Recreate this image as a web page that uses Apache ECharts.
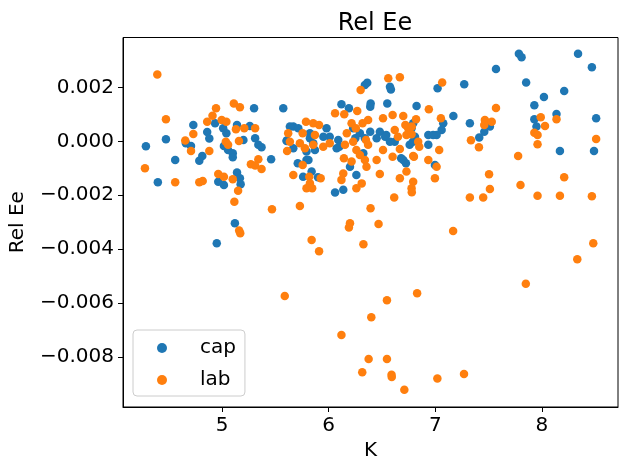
<!DOCTYPE html>
<html>
<head>
<meta charset="utf-8">
<script src="https://cdn.jsdelivr.net/npm/echarts@6/dist/echarts.min.js"></script>
<style>
html, body { margin: 0; padding: 0; background: #fff; }
#chart { width: 628px; height: 472px; }
</style>
</head>
<body>
<div id="chart"></div>
<script>
// values, Rel Ee in units of 0.001
var capK = [4.285, 4.397, 4.473, 4.56, 4.66, 4.708, 4.73, 4.786, 4.814, 4.86, 4.88, 4.934, 5.01, 5.04, 5.017, 5.056, 5.10, 5.10, 5.14, 5.20,
    5.26, 5.31, 5.34, 5.37, 5.46, 5.30, 5.574, 5.606, 4.964, 5.017, 5.14, 5.167, 5.174, 4.95, 5.12, 6.362, 6.34, 6.584, 6.575, 7.022,
    6.12, 6.19, 6.394, 6.39, 6.55, 6.825, 7.075, 7.06, 7.013, 6.935, 6.935, 6.997, 5.668, 5.606, 5.715, 5.98, 5.824, 5.792, 5.871, 6.075,
    6.09, 6.293, 6.325, 6.20, 6.26, 6.137, 6.06, 6.48, 6.54, 6.62, 6.793, 6.81, 6.70, 6.725, 5.792, 5.76, 5.84, 7.785, 7.81, 8.34,
    8.47, 7.57, 7.272, 7.853, 8.21, 8.02, 7.93, 7.17, 7.325, 7.513, 7.46, 7.413, 7.93, 8.138, 7.95, 8.17, 8.51, 8.49, 5.636, 6.01,
    5.95, 5.824, 5.855, 5.668, 5.81, 6.10, 6.23, 6.25, 6.34, 6.39, 6.98, 6.45, 6.53, 6.575, 6.778, 6.76, 6.79, 6.68, 5.71, 5.90];
var capEe = [-0.18, -1.52, 0.08, -0.69, -0.07, -0.17, 0.61, -0.72, -0.54, 0.35, 0.11, 0.67, 0.49, 0.30, -0.17, -0.32, -0.44, -0.59, 0.61, 0.05,
    0.57, 0.12, -0.13, -0.22, -0.66, 1.23, 1.23, 0.01, -1.50, -1.62, -1.16, -1.37, -1.59, -3.78, -3.04, 2.18, 2.09, 1.93, 2.03, 1.97,
    1.38, 1.23, 1.41, 1.29, 1.41, 1.31, 0.67, 0.42, 0.24, 0.24, -0.13, -0.88, 0.55, 0.03, 0.49, 0.49, 0.30, -0.38, -0.32, -0.26,
    0.05, 0.30, -0.44, -0.94, -1.25, -1.80, -1.90, 0.36, 0.24, -0.01, 0.67, 0.17, -0.69, -0.81, -0.69, -1.31, -1.12, 3.25, 3.12, 3.25,
    2.75, 2.69, 2.12, 2.19, 1.87, 1.65, 1.34, 0.94, 0.67, 0.55, 0.36, 0.14, 0.82, 1.02, 0.55, -0.36, 0.86, -0.36, 0.55, 0.17,
    0.17, 0.12, -0.07, -0.26, -0.69, -0.20, 0.49, 0.12, 0.12, 0.36, 0.24, 0.12, 0.17, -0.01, 0.49, -0.13, -0.01, -0.63, -0.81, -1.33];

var labK = [4.392, 4.473, 4.276, 4.56, 4.654, 4.708, 4.73, 4.786, 4.818, 4.88, 4.86, 4.91, 4.943, 4.996, 5.04, 5.035, 5.056, 5.13, 5.11, 5.167,
    5.158, 5.208, 5.31, 5.34, 5.27, 5.31, 5.37, 5.62, 5.61, 4.964, 5.017, 5.10, 5.15, 5.115, 5.16, 5.17, 5.468, 6.559, 6.668, 6.30,
    7.065, 6.94, 6.06, 6.146, 6.268, 6.37, 6.215, 6.318, 6.255, 6.51, 6.60, 6.70, 6.82, 7.053, 7.037, 6.935, 7.013, 6.997, 5.636, 5.787,
    5.756, 5.855, 5.91, 5.871, 5.73, 5.777, 5.855, 5.949, 6.01, 6.17, 6.153, 6.23, 6.35, 6.37, 6.26, 6.293, 6.34, 6.143, 6.215, 6.45,
    6.137, 6.12, 6.31, 6.26, 6.48, 6.355, 6.62, 6.65, 6.746, 6.73, 6.84, 6.85, 6.51, 6.668, 6.793, 6.668, 6.73, 6.793, 6.778, 6.615,
    5.668, 5.756, 5.818, 5.925, 5.824, 5.792, 5.845, 5.73, 5.84, 5.91, 5.588, 7.57, 7.466, 7.53, 7.46, 7.335, 7.41, 7.99, 8.138, 8.03,
    7.93, 7.96, 7.96, 8.51, 7.778, 7.505, 7.513, 7.80, 8.21, 7.325, 7.45, 7.96, 8.17, 8.47, 7.168, 8.483, 8.333, 7.85, 6.83, 6.547,
    6.40, 6.12, 6.375, 6.547, 6.315, 6.59, 6.592, 6.71, 7.02, 7.27, 6.393, 6.468, 6.2, 6.19, 6.326, 6.78, 6.72, 6.78, 6.778, 6.60,
    6.80];
var labEe = [2.48, 0.82, -1.0, -1.52, 0.03, -0.36, 0.27, -1.52, -1.47, -0.36, 0.73, 0.95, 1.23, 0.79, 0.73, -0.01, -0.13, 0.45, 1.41, 1.27,
    0.01, 0.49, 0.49, -0.66, -0.85, -0.90, -1.03, 0.30, -0.36, -1.21, -1.31, -1.41, -1.83, -2.24, -3.31, -3.41, -2.52, 2.34, 2.38, 1.91,
    2.19, 1.19, 1.04, 1.01, 1.13, 0.79, 0.67, 0.67, 0.49, 0.86, 0.98, 0.94, 0.82, 0.86, -0.32, -0.69, -0.94, -1.37, -0.01, 0.73,
    0.30, 0.67, 0.61, 0.24, -0.07, -0.26, -0.13, -0.20, -0.07, 0.30, -0.13, -0.01, 0.05, -0.13, -0.32, -0.51, -0.69, -0.63, -0.75, -0.69,
    -1.19, -1.43, -1.56, -1.74, -1.21, -0.94, 0.42, 0.17, 0.49, 0.24, -0.01, -0.20, -0.32, -0.28, -0.54, -1.37, -1.12, -1.50, -1.74, -2.08,
    -1.25, -0.88, -1.31, -1.37, -1.56, -1.74, -1.74, -2.40, -3.66, -4.08, -5.74, 1.24, 0.79, 0.73, 0.61, 0.04, -0.22, 0.90, 0.82, 0.57,
    0.32, 0.24, -0.11, 0.09, -0.54, -1.22, -1.77, -1.62, -1.33, -2.08, -2.08, -2.02, -2.02, -2.04, -3.33, -3.78, -4.38, -5.29, -5.64, -5.90,
    -6.53, -7.19, -8.08, -8.08, -8.57, -8.67, -8.75, -9.22, -8.81, -8.64, -2.48, -3.07, -3.04, -3.20, -3.82, -1.89, 0.61, 0.55, 0.26, -0.57,
    -0.57];

var xTicks = [5, 6, 7, 8];
var yTicks = [-0.008, -0.006, -0.004, -0.002, 0, 0.002];

function pairs(xs, ys) {
    var out = [];
    for (var i = 0; i < xs.length; i++) {
        out.push([xs[i], ys[i] / 1000]);
    }
    return out;
}

// legend marker: a dot sitting in the left part of a wide, otherwise empty box
var legendDot = 'path://M0,5L0,5M12,5a5,5 0 1,0 10,0a5,5 0 1,0 -10,0M50,5L50,5';

var font = 'DejaVu Sans';
var myChart = echarts.init(document.getElementById('chart'));
var option = {
    animation: false,
    title: {
        text: 'Rel Ee',
        left: 370,
        textAlign: 'center',
        top: 7,
        textStyle: { fontFamily: font, fontSize: 24, fontWeight: 'normal', color: '#000' }
    },
    legend: {
        orient: 'vertical',
        left: 133,
        top: 330,
        padding: [8, 9, 6, 12],
        itemGap: 12,
        itemWidth: 50,
        itemHeight: 10,
        icon: legendDot,
        borderColor: '#cccccc',
        borderWidth: 1,
        borderRadius: 4,
        backgroundColor: 'rgba(255,255,255,0.8)',
        textStyle: { fontFamily: font, fontSize: 20, color: '#000' },
        data: ['cap', 'lab']
    },
    grid: {
        left: 123,
        top: 37.5,
        width: 495,
        height: 369.5,
        show: true,
        borderColor: '#000',
        borderWidth: 1
    },
    xAxis: {
        type: 'value',
        min: 4.07,
        max: 8.715,
        name: 'K',
        nameLocation: 'middle',
        nameGap: 34,
        nameTextStyle: { fontFamily: font, fontSize: 20, color: '#000' },
        axisLine: { show: true, onZero: false, lineStyle: { color: '#000' } },
        axisTick: { show: true, length: 5, customValues: xTicks, lineStyle: { color: '#000' } },
        axisLabel: { customValues: xTicks, margin: 9, fontFamily: font, fontSize: 20, color: '#000' },
        splitLine: { show: false }
    },
    yAxis: {
        type: 'value',
        min: -0.009864,
        max: 0.003857,
        name: 'Rel Ee',
        nameLocation: 'middle',
        nameRotate: 90,
        nameGap: 95,
        nameTextStyle: { fontFamily: font, fontSize: 20, color: '#000' },
        axisLine: { show: true, onZero: false, lineStyle: { color: '#000' } },
        axisTick: { show: true, length: 5, customValues: yTicks, lineStyle: { color: '#000' } },
        axisLabel: {
            customValues: yTicks,
            margin: 9,
            fontFamily: font,
            fontSize: 20,
            color: '#000',
            formatter: function (v) { return v.toFixed(3).replace('-', '\u2212'); }
        },
        splitLine: { show: false }
    },
    series: [{
        name: 'cap',
        type: 'scatter',
        symbolSize: 8.5,
        itemStyle: { color: '#1f77b4', opacity: 1 },
        data: pairs(capK, capEe)
    }, {
        name: 'lab',
        type: 'scatter',
        symbolSize: 8.5,
        itemStyle: { color: '#ff7f0e', opacity: 1 },
        data: pairs(labK, labEe)
    }]
};
myChart.setOption(option);
</script>
</body>
</html>
